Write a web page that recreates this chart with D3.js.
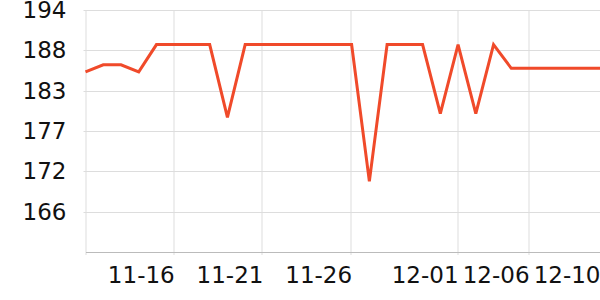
<!DOCTYPE html>
<html>
<head>
<meta charset="utf-8">
<script src="https://cdn.jsdelivr.net/npm/d3@7"></script>
<style>
  body { margin: 0; background: #fff; }
  svg { display: block; }
  .grid line { stroke: #dddddd; stroke-width: 1; }
  .axis text { font-family: "DejaVu Sans", sans-serif; font-size: 23px; fill: #111; }
</style>
</head>
<body>
<svg id="chart" width="600" height="300"></svg>
<script>
// categories (one per point)
var dates = ["11-11","11-12","11-13","11-14","11-15","11-16","11-17","11-18","11-19","11-20",
             "11-21","11-22","11-23","11-24","11-25","11-26","11-27","11-28","11-29","11-30",
             "11-30","12-01","12-02","12-03","12-05","12-06","12-07","12-08","12-09","12-10"];
var values = [185.4, 186.4, 186.4, 185.4, 189.2, 189.2, 189.2, 189.2, 179.1, 189.2,
              189.2, 189.2, 189.2, 189.2, 189.2, 189.2, 170.2, 189.2, 189.2, 189.2,
              179.6, 189.2, 179.6, 189.2, 185.9, 185.9, 185.9, 185.9, 185.9, 185.9];
var xTickIdx = [5, 10, 15, 21, 25, 29];
var yTicks = [166, 171.6, 177.2, 182.8, 188.4, 194];
var yDomain = [160.4, 194];

var svg = d3.select("#chart"),
    margin = {top: 10, right: 0, bottom: 48, left: 85.5},
    width = +svg.attr("width") - margin.left - margin.right,
    height = +svg.attr("height") - margin.top - margin.bottom;

var x = d3.scaleLinear().domain([0, dates.length - 1]).range([0, width]);
var y = d3.scaleLinear().domain(yDomain).range([height, 0]);

var g = svg.append("g")
    .attr("transform", "translate(" + margin.left + "," + margin.top + ")");

// horizontal grid
g.append("g").attr("class", "grid")
  .selectAll("line").data(yTicks).enter().append("line")
    .attr("x1", -2).attr("x2", width)
    .attr("y1", function(d) { return Math.round(y(d)) + 0.5; })
    .attr("y2", function(d) { return Math.round(y(d)) + 0.5; });

// vertical grid
g.append("g").attr("class", "grid")
  .selectAll("line").data(xTickIdx.filter(function(i) { return i < dates.length - 1; })).enter().append("line")
    .attr("y1", 0).attr("y2", height + 3)
    .attr("x1", function(d) { return Math.round(x(d)) - 0.5; })
    .attr("x2", function(d) { return Math.round(x(d)) - 0.5; });

// left axis line
g.append("line")
  .attr("x1", 0.5).attr("x2", 0.5).attr("y1", 0).attr("y2", height + 3)
  .attr("stroke", "#dddddd");

// bottom axis
var xAxis = g.append("g")
    .attr("class", "axis")
    .attr("transform", "translate(0," + height + ")")
    .call(d3.axisBottom(x).tickValues(xTickIdx).tickSize(0)
      .tickFormat(function(i) { return dates[i]; }));
xAxis.select(".domain").attr("stroke", "#bbbbbb");
xAxis.selectAll("text").attr("text-anchor", "end").attr("dy", 0).attr("y", 31);

// left axis labels
var yAxis = g.append("g")
    .attr("class", "axis")
    .call(d3.axisLeft(y).tickValues(yTicks).tickSize(0).tickPadding(19)
      .tickFormat(d3.format(".0f")));
yAxis.select(".domain").remove();

// line
var line = d3.line()
    .x(function(d, i) { return x(i); })
    .y(function(d) { return y(d); });

g.append("path")
  .datum(values)
  .attr("fill", "none")
  .attr("stroke", "#f04a2a")
  .attr("stroke-width", 3)
  .attr("stroke-linejoin", "miter")
  .attr("d", line);
</script>
</body>
</html>
